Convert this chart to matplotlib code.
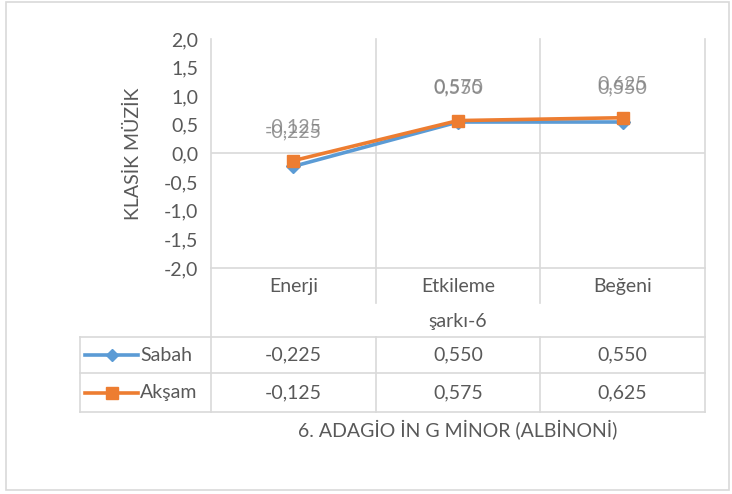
import matplotlib
matplotlib.use("Agg")
import matplotlib.pyplot as plt
from matplotlib.lines import Line2D
from matplotlib.patches import Rectangle
import numpy as np

categories = ["Enerji", "Etkileme", "Beğeni"]
series_names = ["Sabah", "Akşam"]
sabah = [-0.225, 0.550, 0.550]
aksam = [-0.125, 0.575, 0.625]
yticks = [-2.0, -1.5, -1.0, -0.5, 0.0, 0.5, 1.0, 1.5, 2.0]
group_label = "şarkı-6"
y_title = "KLASİK MÜZİK"
x_title = "6. ADAGİO İN G MİNOR (ALBİNONİ)"

plt.rcParams['font.family'] = ['Lato', 'DejaVu Sans']
W, H = 732, 494
fig = plt.figure(figsize=(W / 100, H / 100), dpi=100)

TXT = "#595959"
GRID = "#D9D9D9"
BLUE = "#5B9BD5"
ORANGE = "#ED7D31"
FS = 14

def fmt(v, d):
    return f"{v:.{d}f}".replace(".", ",")

# plot area in pixels
L, R, T, B = 211, 705, 39, 268
ax = fig.add_axes([L / W, 1 - B / H, (R - L) / W, (B - T) / H])
ax.set_xlim(-0.5, len(categories) - 0.5)
ax.set_ylim(yticks[0], yticks[-1])
ax.set_yticks(yticks)
ax.set_yticklabels([fmt(v, 1) for v in yticks], color=TXT, fontsize=FS)
ax.tick_params(axis='y', length=0, pad=9)
ax.set_xticks([])
for s in ax.spines.values():
    s.set_visible(False)
ax.patch.set_alpha(0)
ax.axhline(0, color=GRID, lw=1.2, zorder=1)
ax.set_ylabel(y_title, color=TXT, fontsize=FS, labelpad=16)

x = np.arange(len(categories))
ax.plot(x, sabah, color=BLUE, lw=2.6, marker='D', markersize=7, zorder=3)
ax.plot(x, aksam, color=ORANGE, lw=2.6, marker='s', markersize=9, zorder=4)
for vals in (sabah, aksam):
    for xi, v in zip(x, vals):
        ax.annotate(fmt(v, 3), (xi, v), xytext=(0, 24.5), textcoords='offset points',
                    ha='center', va='center', color="#7F7F7F", fontsize=FS, alpha=0.8)

# overlay in pixel coordinates for table and frame
ov = fig.add_axes([0, 0, 1, 1], zorder=-1)
ov.set_xlim(0, W)
ov.set_ylim(H, 0)
ov.axis('off')
ov.add_patch(Rectangle((6, 2), 723, 488, fill=False, ec=GRID, lw=1.2))

ncat = len(categories)
colw = (R - L) / ncat
bounds = [L + i * colw for i in range(ncat + 1)]
centers = [L + (i + 0.5) * colw for i in range(ncat)]
TL = 80
rows = [337, 373, 412]

def ln(xs, ys):
    ov.add_line(Line2D(xs, ys, color=GRID, lw=1.2))

ln([L, R], [B, B])
for yy in rows:
    ln([TL, R], [yy, yy])
ln([TL, TL], [rows[0], rows[-1]])
ln([L, L], [T, rows[-1]])
ln([R, R], [T, rows[-1]])
for bx in bounds[1:-1]:
    ln([bx, bx], [T, 303])
    ln([bx, bx], [rows[0], rows[-1]])

for cx, c in zip(centers, categories):
    ov.text(cx, 286, c, ha='center', va='center', color=TXT, fontsize=FS)
ov.text((L + R) / 2, 321, group_label, ha='center', va='center', color=TXT, fontsize=FS)

for r, (name, vals, col, mk, ms) in enumerate([
        (series_names[0], sabah, BLUE, 'D', 6),
        (series_names[1], aksam, ORANGE, 's', 8)]):
    yc = (rows[r] + rows[r + 1]) / 2
    ov.add_line(Line2D([85, 138], [yc, yc], color=col, lw=2.6, marker=None))
    ov.plot([111.5], [yc], marker=mk, color=col, markersize=ms)
    ov.text(140, yc, name, ha='left', va='center', color=TXT, fontsize=FS)
    for cx, v in zip(centers, vals):
        ov.text(cx, yc, fmt(v, 3), ha='center', va='center', color=TXT, fontsize=FS)

ov.text((L + R) / 2, 430, x_title, ha='center', va='center', color=TXT, fontsize=FS)

fig.savefig("out.png", dpi=100)
